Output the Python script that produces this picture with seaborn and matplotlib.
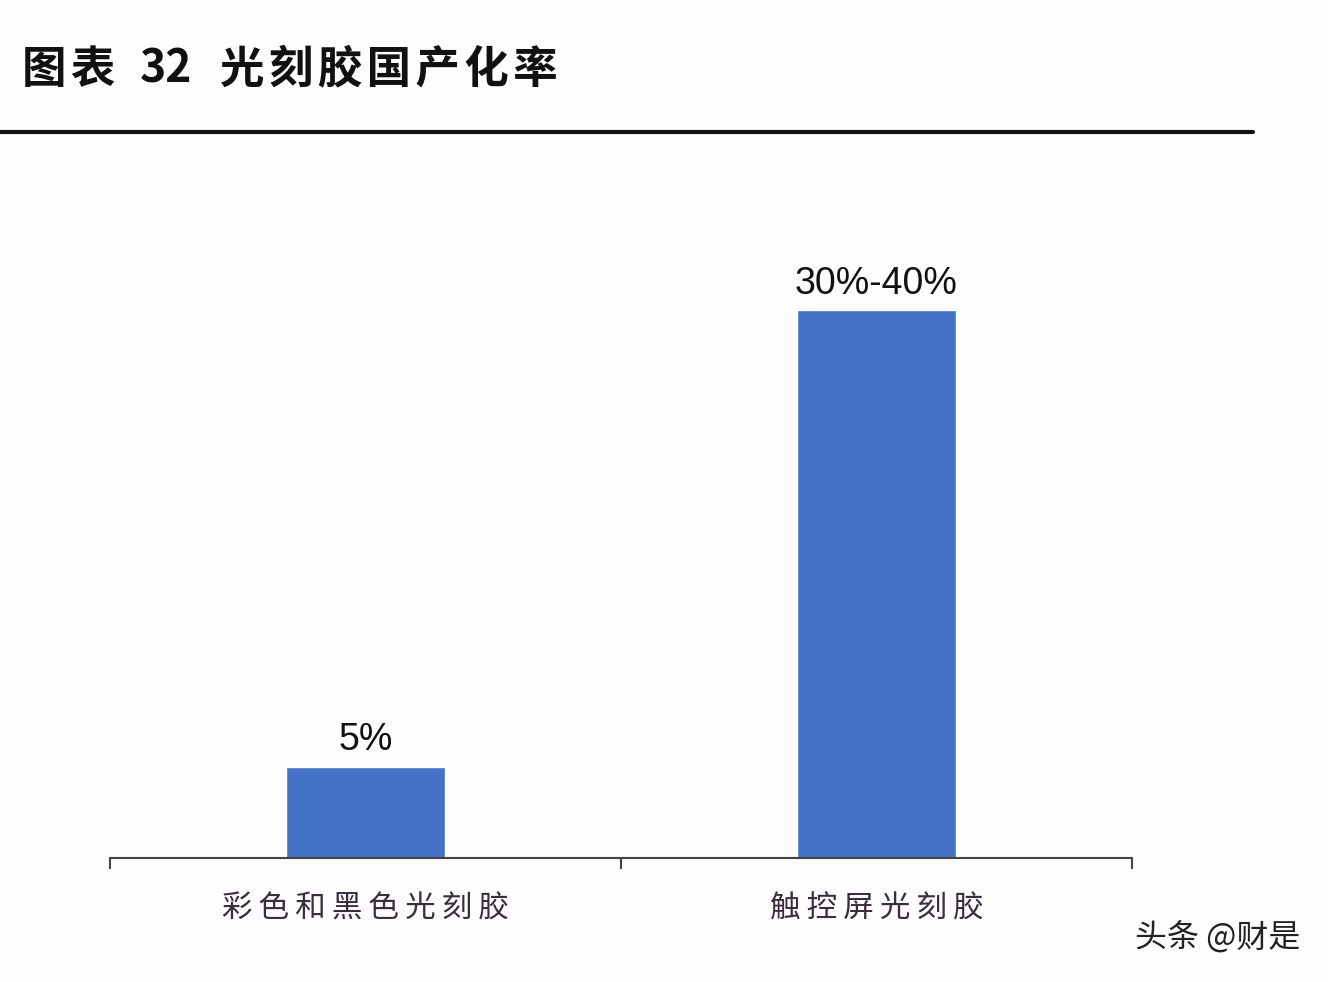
import pandas as pd
import seaborn as sns
import matplotlib.pyplot as plt

# ------------------------ DATA ------------------------
categories = ["彩色和黑色光刻胶", "触控屏光刻胶"]
values = [5, 30]
value_labels = ["5%", "30%-40%"]

title_parts = ["图表", "32", "光刻胶国产化率"]
watermark = "头条 @财是"

BAR_COLOR = "#4472C4"

df = pd.DataFrame({"类别": categories, "国产化率": values})

# ------------------------ PLOT ------------------------
sns.set_style("white")
plt.rcParams["font.family"] = ["Noto Sans CJK SC", "DejaVu Sans"]

fig = plt.figure(figsize=(13.28, 9.82), dpi=100)
fig.patch.set_facecolor("#fdfdfd")

ax = fig.add_axes([0.0828, 0.1263, 0.7696, 0.7107])
ax.set_facecolor("#fdfdfd")

sns.barplot(data=df, x="类别", y="国产化率", color=BAR_COLOR,
            width=0.31, saturation=1, ax=ax)

ax.set_xlim(-0.5, 1.5)
ax.set_ylim(0, 38.2)

# bar labels
for i, (v, lab) in enumerate(zip(values, value_labels)):
    ax.text(i, v + 0.45, lab, ha="center", va="bottom",
            fontsize=27, family=["Liberation Sans", "DejaVu Sans"], color="#111111")

# axes styling
for side in ["left", "right", "top"]:
    ax.spines[side].set_visible(False)
ax.spines["bottom"].set_color("#444444")
ax.spines["bottom"].set_linewidth(1.5)
ax.set_yticks([])
ax.set_xlabel("")
ax.set_ylabel("")
ax.set_xticks([0, 1])
# spaced-out labels like the original
ax.set_xticklabels(["\u2009".join(c) for c in categories], fontsize=22,
                   color="#3a2e3e")
ax.tick_params(axis="x", which="major", length=0, pad=26)
ax.set_xticks([-0.5, 0.5, 1.5], minor=True)
ax.tick_params(axis="x", which="minor", bottom=True, length=8, width=1.5,
               color="#444444", direction="out")

# title and rule line
ty = 0.929
fig.text(22 / 1328, ty, "\u200a".join(title_parts[0]), fontsize=32,
         fontweight="bold", ha="left", va="center", color="#111111")
fig.text(140 / 1328, ty, title_parts[1], fontsize=32, fontweight="bold",
         ha="left", va="center", color="#111111")
fig.text(220 / 1328, ty, "\u200a".join(title_parts[2]), fontsize=32,
         fontweight="bold", ha="left", va="center", color="#111111")
fig.add_artist(plt.Line2D([0, 1253 / 1328], [1 - 132 / 982, 1 - 132 / 982],
                          color="#111111", linewidth=3))

# watermark
fig.text(0.979, 0.046, watermark, fontsize=23, ha="right", va="center",
         color="#222222")

fig.savefig("out.png", dpi=100, facecolor=fig.get_facecolor())
